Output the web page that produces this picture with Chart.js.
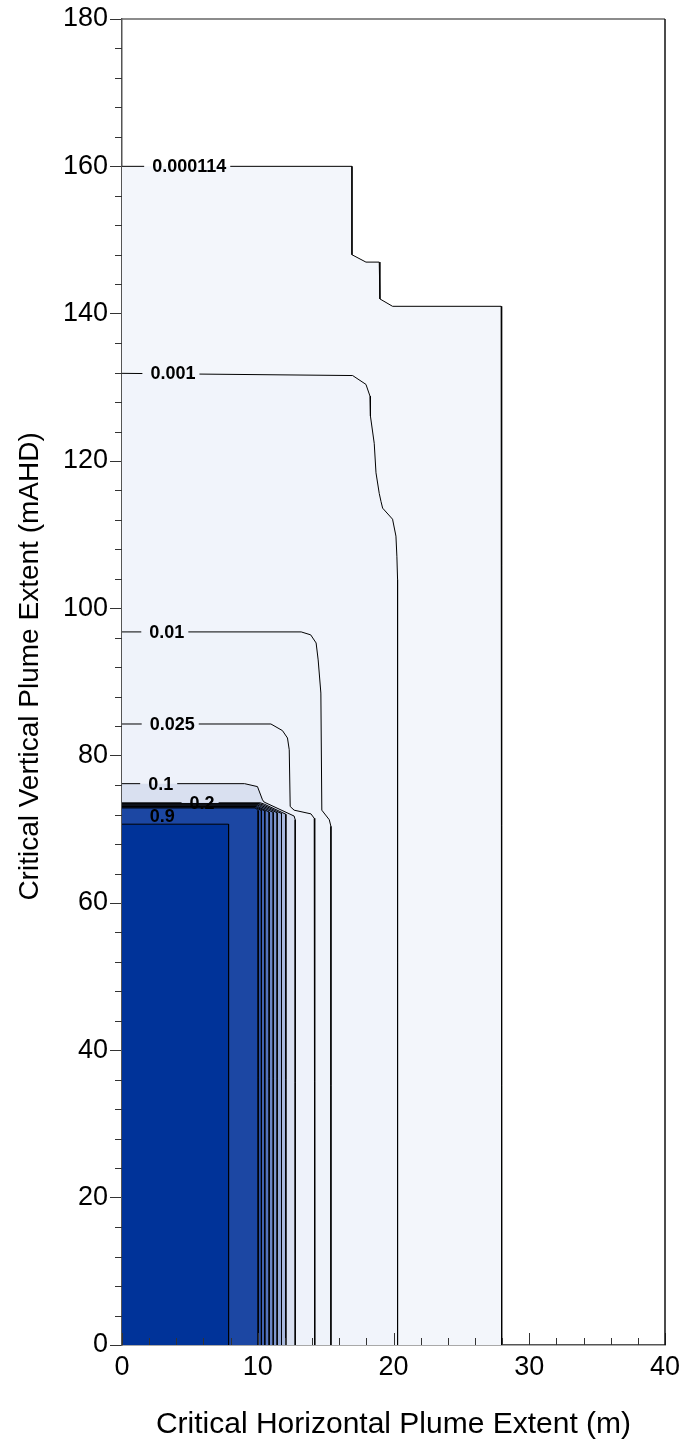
<!DOCTYPE html>
<html>
<head>
<meta charset="utf-8">
<script src="https://cdn.jsdelivr.net/npm/chart.js@4.4.1/dist/chart.umd.min.js"></script>
<style>
  html, body { margin: 0; padding: 0; background: #ffffff; }
  canvas { display: block; }
</style>
</head>
<body>
<canvas id="plume" width="687" height="1449"></canvas>
<script>
// Axis ticks
const xTickValues = [0, 10, 20, 30, 40];
const yTickValues = [0, 20, 40, 60, 80, 100, 120, 140, 160, 180];

// Concentration contours, each as [horizontal extent (m), vertical extent (mAHD)]
const contour_0_000114 = [[0,160],[16.94,160],[16.94,148.0],[17.97,147.0],[18.95,147.0],[19.0,142.0],[19.93,141.0],[27.93,141.0],[27.97,140.5],[27.97,0]];
const contour_0_001 = [[0,131.9],[16.99,131.6],[17.97,130.4],[18.27,128.8],[18.3,126.1],[18.58,122.4],[18.71,118.4],[18.95,115.6],[19.08,114.5],[19.2,113.6],[19.93,112.1],[20.18,109.8],[20.25,107.0],[20.3,103.9],[20.3,0]];
const contour_0_01 = [[0,96.8],[13.2,96.8],[13.9,96.4],[14.3,95.3],[14.45,93.0],[14.65,88.5],[14.72,72.6],[15.27,71.3],[15.39,70.4],[15.39,0]];
const contour_0_025 = [[0,84.3],[10.97,84.3],[11.82,83.4],[12.19,82.4],[12.32,80.8],[12.39,73.1],[12.68,72.6],[13.92,72.1],[14.16,71.5],[14.2,0]];
const contour_0_1 = [[0,76.2],[9.03,76.2],[9.98,75.8],[10.35,74.0],[10.47,73.7],[12.68,71.8],[12.76,71.3],[12.76,0]];
const contour_0_2 = [[0,73.6],[10.2,73.6],[10.5,73.4],[12.07,72.05],[12.07,0]];
const contour_0_3 = [[0,73.5],[10.1,73.5],[10.4,73.3],[11.75,72.15],[11.75,0]];
const contour_0_4 = [[0,73.4],[10.05,73.4],[10.3,73.2],[11.43,72.25],[11.43,0]];
const contour_0_5 = [[0,73.3],[10.0,73.3],[10.2,73.1],[11.14,72.3],[11.14,0]];
const contour_0_6 = [[0,73.2],[9.95,73.2],[10.1,73.0],[10.84,72.35],[10.84,0]];
const contour_0_7 = [[0,73.1],[9.9,73.1],[10.0,72.95],[10.52,72.5],[10.52,0]];
const contour_0_8 = [[0,73.0],[9.85,73.0],[9.95,72.85],[10.27,72.55],[10.27,0]];
const contour_0_9 = [[0,72.9],[9.8,72.9],[9.92,72.75],[10.03,72.55],[10.03,0]];
const contour_0_99 = [[0,70.7],[7.85,70.7],[7.85,0]];

// Levels, innermost first (first dataset is drawn on top)
const levels = ['0.99','0.9','0.8','0.7','0.6','0.5','0.4','0.3','0.2','0.1','0.025','0.01','0.001','0.000114'];
const contours = [contour_0_99, contour_0_9, contour_0_8, contour_0_7, contour_0_6, contour_0_5, contour_0_4,
                  contour_0_3, contour_0_2, contour_0_1, contour_0_025, contour_0_01, contour_0_001, contour_0_000114];
const bandColors = ['#003399','#1c47a3','#2c53aa','#3f62b3','#5474bd','#6985c6','#7e97cf','#93a8d7','#a9b9de',
                    '#d9e0f0','#eef2fa','#eff3fa','#f1f4fb','#f3f6fb'];

// Contour labels and where they sit
const labelText = ['0.000114','0.001','0.01','0.025','0.1','0.2','0.9'];
const labelX = [4.95, 3.75, 3.3, 3.7, 2.85, 5.9, 2.97];
const labelY = [160, 131.9, 96.8, 84.3, 76.2, 73.55, 71.8];

const FONT = "'Liberation Sans', Arial, sans-serif";
const LABEL_FONT = 'bold 18px ' + FONT;

function labelBox(chart, i) {
  const {x, y} = chart.scales;
  const ctx = chart.ctx;
  ctx.save();
  ctx.font = LABEL_FONT;
  const w = ctx.measureText(labelText[i]).width;
  ctx.restore();
  const cx = x.getPixelForValue(labelX[i]);
  const cy = y.getPixelForValue(labelY[i]);
  return {cx, cy, left: cx - w / 2 - 8, right: cx + w / 2 + 4, top: cy - 9, bottom: cy + 9};
}

// Break each labelled contour line where its label sits, then write the labels
const labelGaps = {
  id: 'labelGaps',
  beforeDatasetDraw(chart, args) {
    const lvl = levels[args.index];
    const i = labelText.indexOf(lvl);
    if (i < 0 || lvl === '0.9') return;
    const b = labelBox(chart, i);
    const ctx = chart.ctx;
    ctx.save();
    ctx.beginPath();
    ctx.rect(0, 0, chart.width, chart.height);
    ctx.rect(b.left, b.top, b.right - b.left, b.bottom - b.top);
    ctx.clip('evenodd');
    args.meta._gapClip = true;
  },
  afterDatasetDraw(chart, args) {
    if (args.meta._gapClip) {
      chart.ctx.restore();
      args.meta._gapClip = false;
    }
  },
  afterDatasetsDraw(chart) {
    const ctx = chart.ctx;
    ctx.save();
    ctx.font = LABEL_FONT;
    ctx.fillStyle = '#000';
    ctx.textAlign = 'center';
    ctx.textBaseline = 'middle';
    labelText.forEach((t, i) => {
      const b = labelBox(chart, i);
      ctx.fillText(t, b.cx, b.cy + 1);
    });
    ctx.restore();
  }
};

// Minor ticks, inward x ticks and the top/right frame
const frame = {
  id: 'frame',
  afterDraw(chart) {
    const {ctx, chartArea: a, scales: {x, y}} = chart;
    ctx.save();
    ctx.lineWidth = 1;
    ctx.strokeStyle = '#333';
    ctx.beginPath();
    for (let v = 0; v <= 180; v += 4) {
      if (v % 20 === 0) continue;
      const p = Math.round(y.getPixelForValue(v)) + 0.5;
      ctx.moveTo(a.left - 7, p); ctx.lineTo(a.left, p);
    }
    for (let v = 0; v <= 40; v += 2) {
      const len = v % 10 === 0 ? 12 : 7;
      const p = Math.round(x.getPixelForValue(v)) + 0.5;
      ctx.moveTo(p, a.bottom); ctx.lineTo(p, a.bottom - len);
    }
    ctx.stroke();
    ctx.lineWidth = 1.5;
    ctx.strokeStyle = '#666';
    ctx.beginPath();
    ctx.moveTo(a.left, a.top); ctx.lineTo(a.right, a.top);
    ctx.stroke();
    ctx.strokeStyle = '#111';
    ctx.beginPath();
    ctx.moveTo(a.right, a.top); ctx.lineTo(a.right, a.bottom);
    ctx.stroke();
    ctx.restore();
  }
};

Chart.defaults.color = '#000';
Chart.defaults.font.family = FONT;

new Chart(document.getElementById('plume'), {
  type: 'scatter',
  data: {
    datasets: contours.map((pts, i) => ({
      label: levels[i],
      data: pts.map(p => ({x: p[0], y: p[1]})),
      showLine: true,
      tension: 0,
      pointRadius: 0,
      pointHoverRadius: 0,
      borderColor: '#000',
      borderWidth: 1,
      backgroundColor: bandColors[i],
      fill: 'origin'
    }))
  },
  options: {
    responsive: false,
    animation: false,
    events: [],
    layout: {padding: {top: 19, right: 22, left: 0, bottom: 0}},
    plugins: {legend: {display: false}, tooltip: {enabled: false}},
    scales: {
      x: {
        type: 'linear',
        min: 0, max: 40,
        afterBuildTicks: s => { s.ticks = xTickValues.map(v => ({value: v})); },
        afterFit: s => { s.height = 104; },
        ticks: {font: {size: 27}, padding: 6, maxRotation: 0},
        grid: {drawOnChartArea: false, drawTicks: false},
        border: {display: true, color: '#555', width: 1.5},
        title: {display: true, text: 'Critical Horizontal Plume Extent (m)', font: {size: 30}, padding: {top: 0, bottom: 6}}
      },
      y: {
        type: 'linear',
        min: 0, max: 180,
        afterBuildTicks: s => { s.ticks = yTickValues.map(v => ({value: v})); },
        afterFit: s => { s.width = 122; },
        ticks: {font: {size: 27}, padding: 2},
        grid: {drawOnChartArea: false, drawTicks: true, tickLength: 12, tickColor: '#333'},
        border: {display: true, color: '#555', width: 1.5},
        title: {display: true, text: '    Critical Vertical Plume Extent (mAHD)', font: {size: 28}, padding: {top: 13, bottom: 0}}
      }
    }
  },
  plugins: [labelGaps, frame]
});
</script>
</body>
</html>
